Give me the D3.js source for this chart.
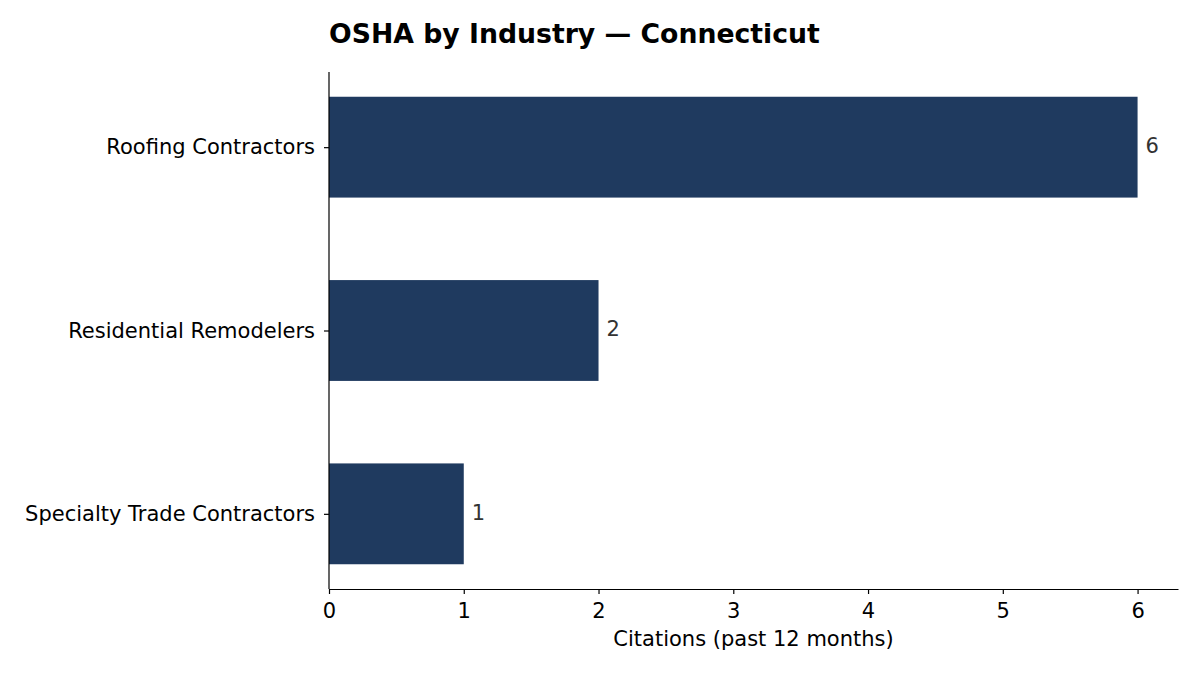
<!DOCTYPE html>
<html>
<head>
<meta charset="utf-8" />
<title>OSHA by Industry</title>
<script src="https://d3js.org/d3.v7.min.js"></script>
<style>
  body { margin: 0; background: #fff; }
  svg text { font-family: "DejaVu Sans", sans-serif; }
</style>
</head>
<body>
<svg id="chart" width="1200" height="675"></svg>
<script>
// data
var industries = ["Roofing Contractors", "Residential Remodelers", "Specialty Trade Contractors"];
var citations = [6, 2, 1];
var xTicks = [0, 1, 2, 3, 4, 5, 6];

var svg = d3.select("#chart");
var plotLeft = 329, plotRight = 1178, plotTop = 72, plotBottom = 589;
var fs = 21;

var x = d3.scaleLinear().domain([0, 6.3]).range([plotLeft, plotRight]);
// category index 0 at top
var y = d3.scaleLinear().domain([-0.41, 2.41]).range([plotTop, plotBottom]);
var barH = 0.55;

// bars
svg.selectAll("rect.bar")
  .data(industries)
  .enter().append("rect")
  .attr("class", "bar")
  .attr("x", x(0))
  .attr("y", function (d, i) { return y(i - barH / 2); })
  .attr("width", function (d, i) { return x(citations[i]) - x(0); })
  .attr("height", y(barH) - y(0))
  .attr("fill", "#1f3a5f");

// value labels
svg.selectAll("text.val")
  .data(industries)
  .enter().append("text")
  .attr("class", "val")
  .attr("x", function (d, i) { return x(citations[i]) + 8; })
  .attr("y", function (d, i) { return y(i) - 1; })
  .attr("dy", "0.32em")
  .attr("font-size", fs)
  .attr("fill", "#333")
  .text(function (d, i) { return citations[i]; });

// x axis
var xAxis = svg.append("g")
  .attr("transform", "translate(0," + plotBottom + ")")
  .call(d3.axisBottom(x).tickValues(xTicks).tickFormat(d3.format("d"))
    .tickSize(5).tickSizeOuter(0).tickPadding(9));
xAxis.select(".domain").attr("stroke", "#000").attr("stroke-width", 1.2);
xAxis.selectAll(".tick line").attr("stroke", "#000").attr("stroke-width", 1.2);
xAxis.selectAll(".tick text").attr("font-size", fs).attr("fill", "#000")
  .attr("font-family", "DejaVu Sans, sans-serif");

// y axis
var yAxis = svg.append("g")
  .attr("transform", "translate(" + plotLeft + ",0)")
  .call(d3.axisLeft(y).tickValues([0, 1, 2])
    .tickFormat(function (i) { return industries[i]; })
    .tickSize(5).tickPadding(9));
yAxis.select(".domain").attr("stroke", "#000").attr("stroke-width", 1.2)
  .attr("d", "M0," + plotTop + "V" + plotBottom);
yAxis.selectAll(".tick line").attr("stroke", "#000").attr("stroke-width", 1.2);
yAxis.selectAll(".tick text").attr("font-size", fs).attr("fill", "#000")
  .attr("font-family", "DejaVu Sans, sans-serif");

// axis label
svg.append("text")
  .attr("x", (plotLeft + plotRight) / 2)
  .attr("y", 646)
  .attr("text-anchor", "middle")
  .attr("font-size", fs)
  .text("Citations (past 12 months)");

// title
svg.append("text")
  .attr("x", plotLeft)
  .attr("y", 43)
  .attr("font-size", 26.7)
  .attr("font-weight", "bold")
  .text("OSHA by Industry \u2014 Connecticut");
</script>
</body>
</html>
